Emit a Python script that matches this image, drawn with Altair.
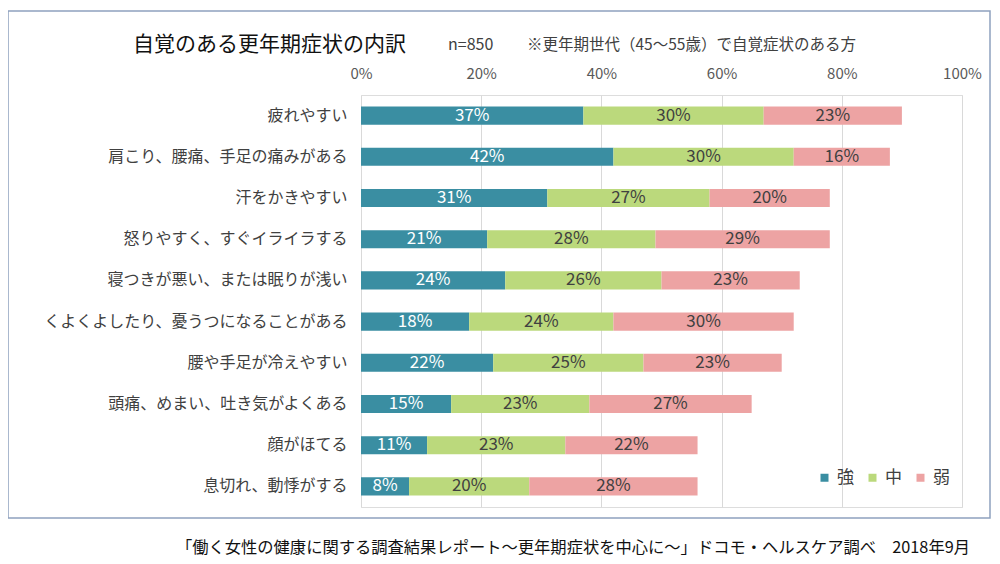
import altair as alt
import pandas as pd

# 自覚のある更年期症状の内訳 (n=850)
symptoms = [
    "疲れやすい",
    "肩こり、腰痛、手足の痛みがある",
    "汗をかきやすい",
    "怒りやすく、すぐイライラする",
    "寝つきが悪い、または眠りが浅い",
    "くよくよしたり、憂うつになることがある",
    "腰や手足が冷えやすい",
    "頭痛、めまい、吐き気がよくある",
    "顔がほてる",
    "息切れ、動悸がする",
]
strong = [37, 42, 31, 21, 24, 18, 22, 15, 11, 8]
medium = [30, 30, 27, 28, 26, 24, 25, 23, 23, 20]
weak = [23, 16, 20, 29, 23, 30, 23, 27, 22, 28]
levels = ["強", "中", "弱"]
colors = ["#3a8ea2", "#bbd97c", "#eda3a3"]

rows = []
for i, s in enumerate(symptoms):
    start = 0
    for k, (lvl, v) in enumerate(zip(levels, [strong[i], medium[i], weak[i]])):
        rows.append({"symptom": s, "level": lvl, "order": k, "value": v,
                     "start": start / 100, "end": (start + v) / 100,
                     "mid": (start + v / 2) / 100, "label": f"{v}%"})
        start += v
df = pd.DataFrame(rows)

W, H = 601, 412
FONT = "Noto Sans CJK JP"

y_enc = alt.Y("symptom:N", sort=symptoms, title=None,
              scale=alt.Scale(paddingInner=0.56, paddingOuter=0.28),
              axis=alt.Axis(domain=False, ticks=False, labelPadding=14,
                            labelFontSize=16, labelColor="#404040", labelFont=FONT,
                            labelLimit=400))

bars = alt.Chart(df).mark_bar().encode(
    x=alt.X("start:Q", title=None,
            scale=alt.Scale(domain=[0, 1], nice=False),
            axis=alt.Axis(orient="top", format="%", values=[0, 0.2, 0.4, 0.6, 0.8, 1.0],
                          domain=False, ticks=False, labelPadding=14, labelFontSize=15,
                          labelFlush=False,
                          labelColor="#595959", labelFont=FONT, gridColor="#d9d9d9")),
    x2="end:Q",
    y=y_enc,
    color=alt.Color("level:N", sort=levels,
                    scale=alt.Scale(domain=levels, range=colors),
                    legend=alt.Legend(title=None, orient="none", direction="horizontal",
                                      legendX=455, legendY=374, symbolType="square",
                                      symbolSize=64, labelFontSize=17, labelFont=FONT,
                                      labelColor="#404040", columnPadding=10,
                                      labelOffset=4, symbolStrokeWidth=0)),
)

labels = alt.Chart(df).mark_text(fontSize=17, font=FONT, baseline="middle").encode(
    x="mid:Q",
    y=alt.Y("symptom:N", sort=symptoms),
    text="label:N",
    color=alt.condition(alt.datum.level == "強", alt.value("white"), alt.value("#404040")),
)

one = pd.DataFrame({"a": [0]})

box = alt.Chart(one).mark_rect(fill=None, stroke="#8fa1bf", strokeWidth=1.5).encode(
    x=alt.value(-353), x2=alt.value(629), y=alt.value(-84), y2=alt.value(423))

title = alt.Chart(one).mark_text(align="left", fontSize=21, font=FONT, color="#111111").encode(
    x=alt.value(-228), y=alt.value(-50), text=alt.value("自覚のある更年期症状の内訳"))

sub1 = alt.Chart(one).mark_text(align="left", fontSize=16, font=FONT, color="#404040").encode(
    x=alt.value(87), y=alt.value(-50), text=alt.value("n=850"))

sub2 = alt.Chart(one).mark_text(align="left", fontSize=15.5, font=FONT, color="#404040").encode(
    x=alt.value(166), y=alt.value(-50),
    text=alt.value("※更年期世代（45～55歳）で自覚症状のある方"))

footer = alt.Chart(one).mark_text(align="right", fontSize=16.3, font=FONT, color="#111111").encode(
    x=alt.value(609), y=alt.value(453),
    text=alt.value("「働く女性の健康に関する調査結果レポート～更年期症状を中心に～」ドコモ・ヘルスケア調べ　2018年9月"))

chart = alt.layer(box, bars, labels, title, sub1, sub2, footer).properties(
    width=W, height=H,
    autosize=alt.AutoSizeParams(type="none"),
    padding={"left": 353, "top": 87, "right": 30, "bottom": 56},
).configure_view(stroke=None).configure(background="white")

chart.save("out.html", embed_options={"renderer": "svg", "actions": False})
